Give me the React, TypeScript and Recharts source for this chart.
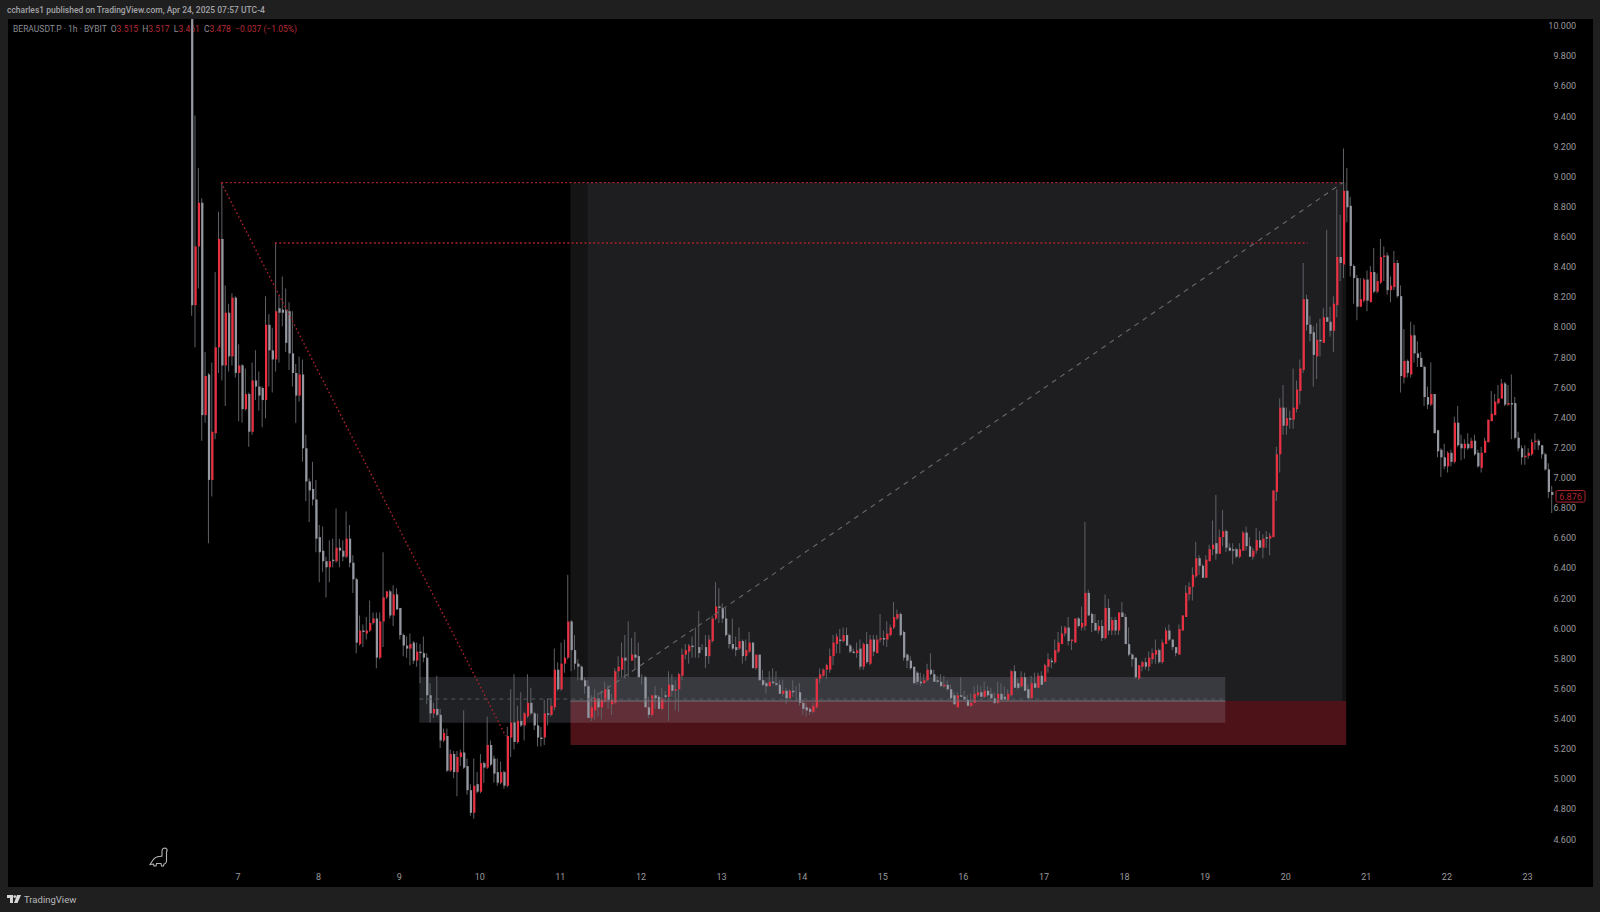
import { Bar, Cell, ComposedChart, ReferenceArea, ReferenceDot, ReferenceLine, XAxis, YAxis } from "recharts";

// hourly candles as [open, high, low, close], one list per day of April
const apr06 = [
  [10.6,11.0,8.07,8.14],[8.14,9.40,7.86,8.53],[8.53,9.05,8.25,8.82],[8.82,8.85,7.24,7.41],[7.41,7.83,7.36,7.67],[7.68,7.69,6.56,6.98],[6.98,7.76,6.87,7.30],
  [7.29,8.36,7.25,7.86],[7.86,8.76,7.69,8.58],[8.58,8.95,7.64,7.74],[7.74,8.27,7.47,8.09],[8.09,8.15,7.70,7.80],[7.80,8.22,7.74,8.19],[8.19,8.20,7.66,7.69],
];
const apr07 = [
  [7.69,7.88,7.37,7.74],[7.74,7.75,7.36,7.45],[7.45,7.72,7.44,7.55],[7.55,7.56,7.20,7.30],[7.30,7.76,7.28,7.64],[7.64,7.84,7.51,7.60],[7.60,7.70,7.44,7.54],[7.59,7.60,7.33,7.51],
  [7.51,8.20,7.39,8.01],[8.01,8.08,7.60,7.84],[7.84,7.99,7.56,7.78],[7.78,8.56,7.70,8.10],[8.12,8.20,7.76,8.09],[8.11,8.33,8.00,8.09],[8.11,8.25,7.83,7.89],[8.10,8.16,7.71,7.82],
  [7.82,8.10,7.60,7.69],[7.69,7.75,7.36,7.54],[7.54,7.80,7.50,7.68],[7.68,7.78,7.10,7.19],[7.19,7.28,6.84,6.97],[6.97,6.99,6.70,6.91],[6.92,7.10,6.81,6.85],[6.85,6.98,6.50,6.59],
];
const apr08 = [
  [6.60,6.68,6.30,6.50],[6.51,6.67,6.37,6.44],[6.44,6.47,6.20,6.40],[6.40,6.58,6.30,6.44],[6.45,6.59,6.40,6.44],[6.44,6.79,6.43,6.53],[6.53,6.59,6.40,6.51],[6.51,6.58,6.44,6.47],
  [6.47,6.77,6.46,6.59],[6.59,6.68,6.40,6.43],[6.43,6.48,6.23,6.32],[6.32,6.33,5.83,5.90],[5.89,6.08,5.88,5.98],[5.98,6.02,5.87,5.97],[5.96,6.07,5.92,5.98],[5.98,6.18,5.97,6.03],
  [6.03,6.10,6.02,6.06],[6.06,6.10,5.73,5.80],[5.80,6.10,5.79,6.04],[6.04,6.50,5.87,6.20],[6.20,6.24,6.19,6.24],[6.24,6.25,6.06,6.08],[6.08,6.28,6.01,6.22],[6.22,6.26,6.12,6.12],
];
const apr09 = [
  [6.13,6.13,5.92,5.95],[5.95,5.96,5.81,5.88],[5.88,5.94,5.80,5.86],[5.86,5.96,5.75,5.89],[5.90,5.91,5.76,5.78],[5.78,5.90,5.74,5.84],[5.84,5.89,5.63,5.83],[5.83,5.94,5.77,5.80],
  [5.80,5.83,5.49,5.55],[5.55,5.63,5.37,5.43],[5.43,5.50,5.40,5.46],[5.46,5.68,5.41,5.42],[5.42,5.46,5.20,5.25],[5.25,5.33,5.24,5.30],[5.28,5.33,5.04,5.05],[5.05,5.19,5.04,5.16],
  [5.16,5.18,5.00,5.04],[5.04,5.18,4.88,5.14],[5.14,5.19,5.08,5.17],[5.17,5.45,5.06,5.07],[5.08,5.13,4.89,4.92],[4.92,4.96,4.75,4.77],[4.77,5.13,4.73,4.95],[4.96,5.04,4.90,4.91],
];
const apr10 = [
  [4.91,5.16,4.90,5.10],[5.10,5.11,4.97,5.07],[5.07,5.41,5.06,5.22],[5.22,5.25,5.08,5.09],[5.13,5.15,4.97,5.03],[5.04,5.13,4.95,4.97],[4.97,5.11,4.96,5.04],[5.04,5.05,4.93,4.95],
  [4.95,5.34,4.94,5.28],[5.27,5.59,5.14,5.37],[5.37,5.69,5.19,5.24],[5.24,5.48,5.23,5.38],[5.38,5.57,5.34,5.35],[5.35,5.44,5.25,5.43],[5.41,5.69,5.40,5.50],[5.50,5.60,5.42,5.43],
  [5.43,5.44,5.32,5.35],[5.35,5.43,5.21,5.27],[5.27,5.34,5.21,5.26],[5.27,5.52,5.22,5.43],[5.43,5.53,5.35,5.42],[5.42,5.53,5.41,5.48],[5.47,5.86,5.45,5.72],[5.72,5.77,5.58,5.59],
];
const apr11 = [
  [5.59,5.90,5.58,5.76],[5.76,5.92,5.70,5.80],[5.80,6.35,5.79,6.04],[6.04,6.05,5.71,5.85],[5.85,5.95,5.72,5.76],[5.76,5.79,5.65,5.74],[5.74,5.75,5.65,5.65],[5.65,5.67,5.56,5.61],
  [5.61,5.65,5.40,5.40],[5.40,5.55,5.38,5.47],[5.45,5.59,5.39,5.53],[5.53,5.57,5.41,5.47],[5.47,5.58,5.39,5.52],[5.51,5.64,5.50,5.59],[5.59,5.62,5.46,5.52],[5.49,5.56,5.42,5.52],
  [5.50,5.73,5.49,5.71],[5.71,5.81,5.67,5.74],[5.72,5.90,5.67,5.80],[5.80,5.95,5.66,5.78],[5.78,6.04,5.67,5.78],[5.78,5.93,5.78,5.82],[5.82,5.97,5.72,5.80],[5.81,5.90,5.67,5.67],
];
const apr12 = [
  [5.67,5.69,5.62,5.67],[5.67,5.68,5.47,5.47],[5.47,5.54,5.40,5.42],[5.42,5.55,5.41,5.55],[5.55,5.61,5.46,5.53],[5.54,5.55,5.46,5.46],[5.46,5.60,5.45,5.53],[5.55,5.58,5.50,5.54],
  [5.54,5.71,5.38,5.62],[5.62,5.69,5.54,5.58],[5.58,5.65,5.45,5.59],[5.59,5.70,5.44,5.69],[5.68,5.86,5.65,5.82],[5.82,5.89,5.79,5.85],[5.84,5.89,5.76,5.88],[5.88,5.94,5.80,5.87],
  [5.87,6.00,5.80,5.87],[5.87,6.11,5.80,5.83],[5.87,5.89,5.85,5.87],[5.87,5.95,5.73,5.81],[5.81,5.95,5.76,5.92],[5.91,6.08,5.90,6.06],[6.06,6.30,6.05,6.14],[6.14,6.26,6.03,6.13],
];
const apr13 = [
  [6.13,6.16,6.03,6.06],[6.06,6.13,5.94,5.95],[5.95,5.96,5.86,5.89],[5.89,6.06,5.85,5.86],[5.87,5.94,5.81,5.85],[5.86,6.00,5.85,5.91],[5.91,5.92,5.76,5.81],[5.81,5.92,5.78,5.85],
  [5.84,5.97,5.83,5.90],[5.90,5.90,5.73,5.73],[5.73,5.82,5.72,5.82],[5.82,5.82,5.65,5.65],[5.65,5.72,5.61,5.62],[5.63,5.64,5.56,5.61],[5.61,5.71,5.61,5.64],[5.64,5.73,5.63,5.63],
  [5.63,5.71,5.61,5.62],[5.62,5.65,5.56,5.56],[5.56,5.65,5.54,5.58],[5.58,5.60,5.49,5.53],[5.53,5.59,5.53,5.58],[5.58,5.65,5.54,5.57],[5.57,5.61,5.51,5.57],[5.57,5.63,5.48,5.50],
];
const apr14 = [
  [5.50,5.52,5.42,5.46],[5.47,5.50,5.41,5.45],[5.46,5.47,5.42,5.44],[5.44,5.50,5.43,5.48],[5.47,5.66,5.46,5.66],[5.66,5.73,5.63,5.69],[5.68,5.73,5.67,5.72],[5.72,5.76,5.66,5.75],
  [5.72,5.86,5.70,5.81],[5.81,5.95,5.75,5.90],[5.89,5.96,5.83,5.94],[5.92,5.99,5.83,5.91],[5.91,6.00,5.90,5.95],[5.95,6.00,5.88,5.88],[5.88,5.89,5.83,5.84],[5.84,5.86,5.83,5.83],
  [5.83,5.90,5.80,5.85],[5.86,5.92,5.72,5.74],[5.74,5.90,5.72,5.89],[5.89,5.97,5.76,5.77],[5.76,5.95,5.75,5.92],[5.92,5.95,5.81,5.84],[5.83,5.95,5.83,5.92],[5.92,6.09,5.90,5.93],
];
const apr15 = [
  [5.93,5.98,5.88,5.92],[5.92,6.04,5.87,5.96],[5.95,6.02,5.94,6.00],[6.00,6.17,5.99,6.07],[6.06,6.12,6.05,6.09],[6.09,6.10,5.94,5.95],[5.97,5.98,5.78,5.80],[5.82,5.83,5.73,5.78],
  [5.78,5.81,5.72,5.73],[5.74,5.74,5.63,5.63],[5.70,5.71,5.62,5.64],[5.64,5.70,5.61,5.63],[5.63,5.69,5.63,5.65],[5.65,5.76,5.64,5.72],[5.72,5.83,5.68,5.69],[5.69,5.72,5.64,5.64],
  [5.65,5.68,5.63,5.64],[5.64,5.69,5.61,5.61],[5.61,5.68,5.60,5.62],[5.62,5.65,5.58,5.59],[5.59,5.62,5.52,5.53],[5.55,5.57,5.49,5.49],[5.47,5.57,5.47,5.55],[5.55,5.67,5.54,5.54],
];
const apr16 = [
  [5.54,5.58,5.52,5.52],[5.52,5.55,5.48,5.48],[5.48,5.56,5.47,5.50],[5.50,5.61,5.50,5.56],[5.55,5.62,5.54,5.57],[5.57,5.61,5.54,5.54],[5.54,5.64,5.53,5.58],[5.58,5.61,5.54,5.55],
  [5.56,5.60,5.52,5.53],[5.53,5.57,5.49,5.50],[5.50,5.64,5.49,5.56],[5.56,5.63,5.52,5.52],[5.54,5.61,5.52,5.52],[5.52,5.59,5.51,5.56],[5.55,5.72,5.54,5.71],[5.71,5.75,5.60,5.60],
  [5.63,5.66,5.59,5.60],[5.61,5.71,5.60,5.67],[5.67,5.70,5.58,5.58],[5.59,5.62,5.53,5.53],[5.53,5.68,5.53,5.63],[5.63,5.70,5.60,5.60],[5.60,5.70,5.60,5.68],[5.68,5.71,5.62,5.62],
];
const apr17 = [
  [5.64,5.76,5.64,5.75],[5.74,5.83,5.70,5.79],[5.78,5.80,5.73,5.77],[5.77,5.92,5.76,5.85],[5.84,5.97,5.83,5.90],[5.89,6.01,5.89,5.96],[5.96,6.01,5.94,6.00],[6.00,6.07,5.88,5.91],
  [5.91,5.92,5.85,5.92],[5.90,6.06,5.90,6.06],[6.06,6.07,6.00,6.01],[6.00,6.14,5.98,6.03],[6.01,6.70,5.98,6.23],[6.23,6.25,6.08,6.08],[6.09,6.10,5.97,6.03],[6.03,6.09,5.98,5.98],
  [5.98,6.05,5.96,6.01],[6.01,6.05,5.91,5.93],[5.93,6.22,5.92,6.13],[6.13,6.19,5.95,5.98],[5.98,6.07,5.95,6.05],[6.05,6.07,5.95,5.98],[5.98,6.10,5.95,6.10],[6.10,6.17,6.07,6.07],
];
const apr18 = [
  [6.07,6.09,5.89,5.89],[5.89,6.00,5.81,5.82],[5.82,5.83,5.74,5.79],[5.80,5.80,5.66,5.67],[5.66,5.75,5.65,5.75],[5.74,5.78,5.71,5.77],[5.77,5.80,5.72,5.74],[5.74,5.84,5.71,5.80],
  [5.79,5.86,5.76,5.83],[5.82,5.92,5.76,5.85],[5.85,5.86,5.76,5.77],[5.77,5.92,5.76,5.90],[5.89,6.00,5.89,5.98],[5.98,6.02,5.91,5.92],[5.92,5.92,5.85,5.87],[5.87,5.87,5.81,5.83],
  [5.82,6.02,5.82,5.99],[5.98,6.08,5.98,6.08],[6.07,6.28,6.07,6.23],[6.22,6.30,6.18,6.27],[6.27,6.40,6.18,6.35],[6.34,6.57,6.33,6.46],[6.46,6.48,6.35,6.41],[6.41,6.42,6.33,6.33],
];
const apr19 = [
  [6.33,6.48,6.33,6.45],[6.44,6.55,6.44,6.52],[6.52,6.71,6.48,6.55],[6.56,6.88,6.45,6.49],[6.49,6.65,6.49,6.60],[6.60,6.78,6.54,6.64],[6.64,6.65,6.50,6.53],[6.53,6.56,6.51,6.51],
  [6.52,6.56,6.42,6.51],[6.52,6.53,6.46,6.47],[6.47,6.56,6.46,6.52],[6.51,6.64,6.51,6.63],[6.63,6.67,6.51,6.54],[6.54,6.60,6.47,6.47],[6.47,6.53,6.45,6.51],[6.51,6.66,6.49,6.58],
  [6.58,6.64,6.53,6.53],[6.53,6.62,6.46,6.59],[6.60,6.64,6.53,6.59],[6.59,6.63,6.48,6.61],[6.60,6.91,6.60,6.91],[6.90,7.20,6.84,7.15],[7.15,7.52,7.03,7.46],[7.46,7.61,7.28,7.34],
];
const apr20 = [
  [7.34,7.46,7.28,7.39],[7.39,7.44,7.32,7.38],[7.38,7.72,7.32,7.46],[7.45,7.64,7.43,7.58],[7.57,7.78,7.48,7.72],[7.71,8.42,7.69,8.18],[8.18,8.21,7.97,8.01],[8.01,8.07,7.90,7.95],
  [7.96,8.00,7.60,7.81],[7.80,8.02,7.65,7.91],[7.91,8.05,7.80,7.90],[7.89,8.12,7.89,8.06],[8.06,8.64,8.03,8.03],[8.03,8.13,7.93,7.97],[7.97,8.20,7.83,8.15],[8.14,8.91,8.06,8.46],
  [8.46,8.74,8.30,8.42],[8.41,9.18,8.32,8.90],[8.90,9.05,8.69,8.79],[8.80,8.86,8.33,8.40],[8.40,8.41,8.15,8.32],[8.32,8.34,8.04,8.13],[8.13,8.32,8.13,8.18],[8.17,8.32,8.16,8.31],
];
const apr21 = [
  [8.31,8.37,8.10,8.17],[8.16,8.40,8.16,8.36],[8.36,8.52,8.22,8.23],[8.23,8.35,8.22,8.30],[8.29,8.58,8.28,8.46],[8.46,8.53,8.30,8.47],[8.47,8.49,8.21,8.24],[8.24,8.33,8.16,8.27],
  [8.26,8.50,8.24,8.42],[8.42,8.44,8.19,8.20],[8.20,8.27,7.56,7.67],[7.66,7.98,7.62,7.77],[7.77,7.78,7.66,7.69],[7.68,8.03,7.66,7.94],[7.94,8.01,7.76,7.82],[7.82,7.90,7.73,7.79],
  [7.79,7.83,7.73,7.73],[7.73,7.74,7.47,7.53],[7.53,7.60,7.45,7.48],[7.48,7.76,7.47,7.55],[7.55,7.55,7.29,7.29],[7.31,7.31,7.13,7.17],[7.18,7.19,7.00,7.13],[7.13,7.22,7.05,7.07],
];
const apr22 = [
  [7.07,7.17,7.03,7.16],[7.16,7.18,7.07,7.10],[7.10,7.40,7.09,7.36],[7.36,7.47,7.20,7.21],[7.22,7.28,7.11,7.19],[7.19,7.25,7.12,7.22],[7.22,7.29,7.18,7.19],[7.19,7.26,7.19,7.24],
  [7.24,7.28,7.14,7.15],[7.16,7.18,7.06,7.07],[7.06,7.20,7.03,7.16],[7.16,7.26,7.16,7.24],[7.23,7.38,7.23,7.38],[7.37,7.57,7.37,7.42],[7.41,7.55,7.41,7.50],[7.49,7.61,7.48,7.52],
  [7.52,7.65,7.52,7.62],[7.62,7.63,7.47,7.48],[7.48,7.61,7.47,7.49],[7.49,7.68,7.25,7.48],[7.49,7.53,7.25,7.26],[7.26,7.30,7.17,7.19],[7.19,7.21,7.08,7.13],[7.13,7.21,7.08,7.14],
];
const apr23 = [
  [7.14,7.19,7.12,7.16],[7.15,7.25,7.14,7.23],[7.23,7.29,7.18,7.24],[7.24,7.25,7.18,7.21],[7.21,7.21,7.12,7.15],[7.15,7.16,7.04,7.05],[7.05,7.09,6.86,6.90],[6.90,6.94,6.76,6.88],
];

const dayLabels = [7, 8, 9, 10, 11, 12, 13, 14, 15, 16, 17, 18, 19, 20, 21, 22, 23];
const priceTicks = [4.6, 4.8, 5.0, 5.2, 5.4, 5.6, 5.8, 6.0, 6.2, 6.4, 6.6, 6.8, 7.0, 7.2, 7.4, 7.6, 7.8, 8.0, 8.2, 8.4, 8.6, 8.8, 9.0, 9.2, 9.4, 9.6, 9.8, 10.0];
const lastPrice = 6.876;

// hours counted from the "7" tick, candles sit a little right of the tick
const candles = [apr06, apr07, apr08, apr09, apr10, apr11, apr12, apr13, apr14, apr15, apr16, apr17, apr18, apr19, apr20, apr21, apr22, apr23]
  .flat()
  .map(([o, h, l, c], i) => ({ t: i - 14 + 0.25, wick: [l, h], body: [o, c], up: c >= o }));

const RED = "#ea2f41";
const GREY = "#9598a1";
const WICK = "#5f6166";
const DOT_RED = "#a8222d";
const hourTicks = dayLabels.map((_, i) => i * 24);
const xDomain = [-68.49, 403.5];

const LastPriceTag = ({ cx, cy }: any) => (
  <g>
    <rect x={cx - 14.5} y={cy - 5} width={29} height={11.5} rx={1.5} fill="#000" stroke="#b3242f" strokeWidth={1} />
    <text x={cx} y={cy + 4} textAnchor="middle" fontSize={9} fontFamily="Roboto" fill="#b3242f">
      {lastPrice.toFixed(3)}
    </text>
  </g>
);

export default function App() {
  return (
    <div style={{ position: "fixed", left: 0, top: 0, width: 1600, height: 912, background: "#1f1f20", overflow: "hidden", fontFamily: "Roboto" }}>
      <div style={{ position: "absolute", left: 8, top: 19, width: 1585, height: 868, background: "#000" }} />
      <div style={{ position: "absolute", left: 7, top: 5, fontSize: 8.5, fontWeight: 500, color: "#a3a3a6", whiteSpace: "nowrap" }}>
        ccharles1 published on TradingView.com, Apr 24, 2025 07:57 UTC-4
      </div>
      <div style={{ position: "absolute", left: 13, top: 24, fontSize: 8.5, color: "#8b8d94", whiteSpace: "pre" }}>
        {"BERAUSDT.P · 1h · BYBIT  O"}
        <span style={{ color: "#b72b38" }}>3.515</span>
        {"  H"}
        <span style={{ color: "#b72b38" }}>3.517</span>
        {"  L"}
        <span style={{ color: "#b72b38" }}>3.461</span>
        {"  C"}
        <span style={{ color: "#b72b38" }}>3.478</span>
        <span style={{ color: "#b72b38" }}>{"  −0.037 (−1.05%)"}</span>
      </div>

      <div style={{ position: "absolute", left: 0, top: 0 }}>
        <ComposedChart width={1600} height={912} data={candles} margin={{ top: 19, right: 7, bottom: 18, left: 8 }}>
          <XAxis
            xAxisId="time"
            dataKey="t"
            type="number"
            domain={xDomain}
            allowDataOverflow
            ticks={hourTicks}
            interval={0}
            height={30}
            axisLine={false}
            tickLine={false}
            tickMargin={4}
            tick={{ fontSize: 9, fill: "#9a9a9c" }}
            tickFormatter={(v: number) => String(dayLabels[v / 24])}
          />
          <XAxis xAxisId="wicks" dataKey="t" type="number" domain={xDomain} allowDataOverflow hide />
          <YAxis
            yAxisId="price"
            orientation="right"
            mirror
            domain={[4.43, 10.04]}
            allowDataOverflow
            ticks={priceTicks}
            interval={0}
            axisLine={false}
            tickLine={false}
            tickMargin={11}
            dy={1}
            tick={{ fontSize: 9, fill: "#9a9a9c" }}
            tickFormatter={(v: number) => v.toFixed(3)}
          />

          {/* trade box */}
          <ReferenceArea xAxisId="time" yAxisId="price" x1={99} x2={104} y1={5.512} y2={8.954} fill="#141415" fillOpacity={1} />
          <ReferenceArea xAxisId="time" yAxisId="price" x1={104} x2={329} y1={5.512} y2={8.954} fill="#1e1e20" fillOpacity={1} />
          <ReferenceArea xAxisId="time" yAxisId="price" x1={329} x2={330} y1={5.512} y2={8.954} fill="#131314" fillOpacity={1} />
          <ReferenceArea xAxisId="time" yAxisId="price" x1={99} x2={330} y1={5.22} y2={5.512} fill="#4d1118" fillOpacity={1} />

          <Bar xAxisId="wicks" yAxisId="price" dataKey="wick" barSize={1} fill={WICK} isAnimationActive={false} />
          <Bar xAxisId="time" yAxisId="price" dataKey="body" barSize={2.2} isAnimationActive={false}>
            {candles.map((c) => (
              <Cell key={c.t} fill={c.up ? RED : GREY} />
            ))}
          </Bar>

          {/* support zone */}
          <ReferenceArea xAxisId="time" yAxisId="price" x1={54} x2={294} y1={5.368} y2={5.672} fill="#d8dcf0" fillOpacity={0.15} />
          <ReferenceLine xAxisId="time" yAxisId="price" segment={[{ x: 54, y: 5.525 }, { x: 294, y: 5.525 }]} stroke="#55575c" strokeDasharray="4 4" />
          <ReferenceLine xAxisId="time" yAxisId="price" segment={[{ x: 99, y: 5.512 }, { x: 294, y: 5.512 }]} stroke="#73757b" />

          <ReferenceLine xAxisId="time" yAxisId="price" segment={[{ x: -5, y: 8.954 }, { x: 329, y: 8.954 }]} stroke={DOT_RED} strokeWidth={1.3} strokeDasharray="2 2.3" />
          <ReferenceLine xAxisId="time" yAxisId="price" segment={[{ x: 11, y: 8.553 }, { x: 318.5, y: 8.553 }]} stroke={DOT_RED} strokeWidth={1.3} strokeDasharray="2 2.3" />
          <ReferenceLine xAxisId="time" yAxisId="price" segment={[{ x: -5, y: 8.954 }, { x: 79.7, y: 5.28 }]} stroke={DOT_RED} strokeWidth={1.4} strokeDasharray="1.6 2.6" />
          <ReferenceLine xAxisId="time" yAxisId="price" segment={[{ x: 105, y: 5.52 }, { x: 329, y: 8.954 }]} stroke="#6a6a6e" strokeWidth={1.1} strokeDasharray="5 5" />
          <ReferenceDot xAxisId="time" yAxisId="price" x={396.8} y={lastPrice} shape={LastPriceTag} ifOverflow="visible" />
        </ComposedChart>
      </div>

      <svg style={{ position: "absolute", left: 148, top: 846, width: 22, height: 22 }} viewBox="0 0 22 22" fill="none" stroke="#b5b5b5" strokeWidth={1.1}>
        <path d="M2 18.5 L5 14 Q8 10 12 10.5 L14 10 L14 4.5 Q14.5 2 17 2 Q19.5 2.5 19 5 L18.5 6 L18.5 15 Q18 18 16 18 L15.5 20 L13.5 20 L13 17.5 L8.5 17.5 L8 20 L6 20 L5.5 18 Z" />
      </svg>

      <svg style={{ position: "absolute", left: 7, top: 895, width: 14, height: 9 }} viewBox="0 0 14 9" fill="#d6d6d6">
        <path d="M0 0 H6 V8 H3 V3 H0 Z" />
        <circle cx={7.8} cy={1.6} r={1.4} />
        <path d="M10 0 H14 L10.5 8 H7 Z" />
      </svg>
      <div style={{ position: "absolute", left: 24, top: 894, fontSize: 9.5, color: "#b9b9ba", whiteSpace: "nowrap" }}>TradingView</div>
    </div>
  );
}
